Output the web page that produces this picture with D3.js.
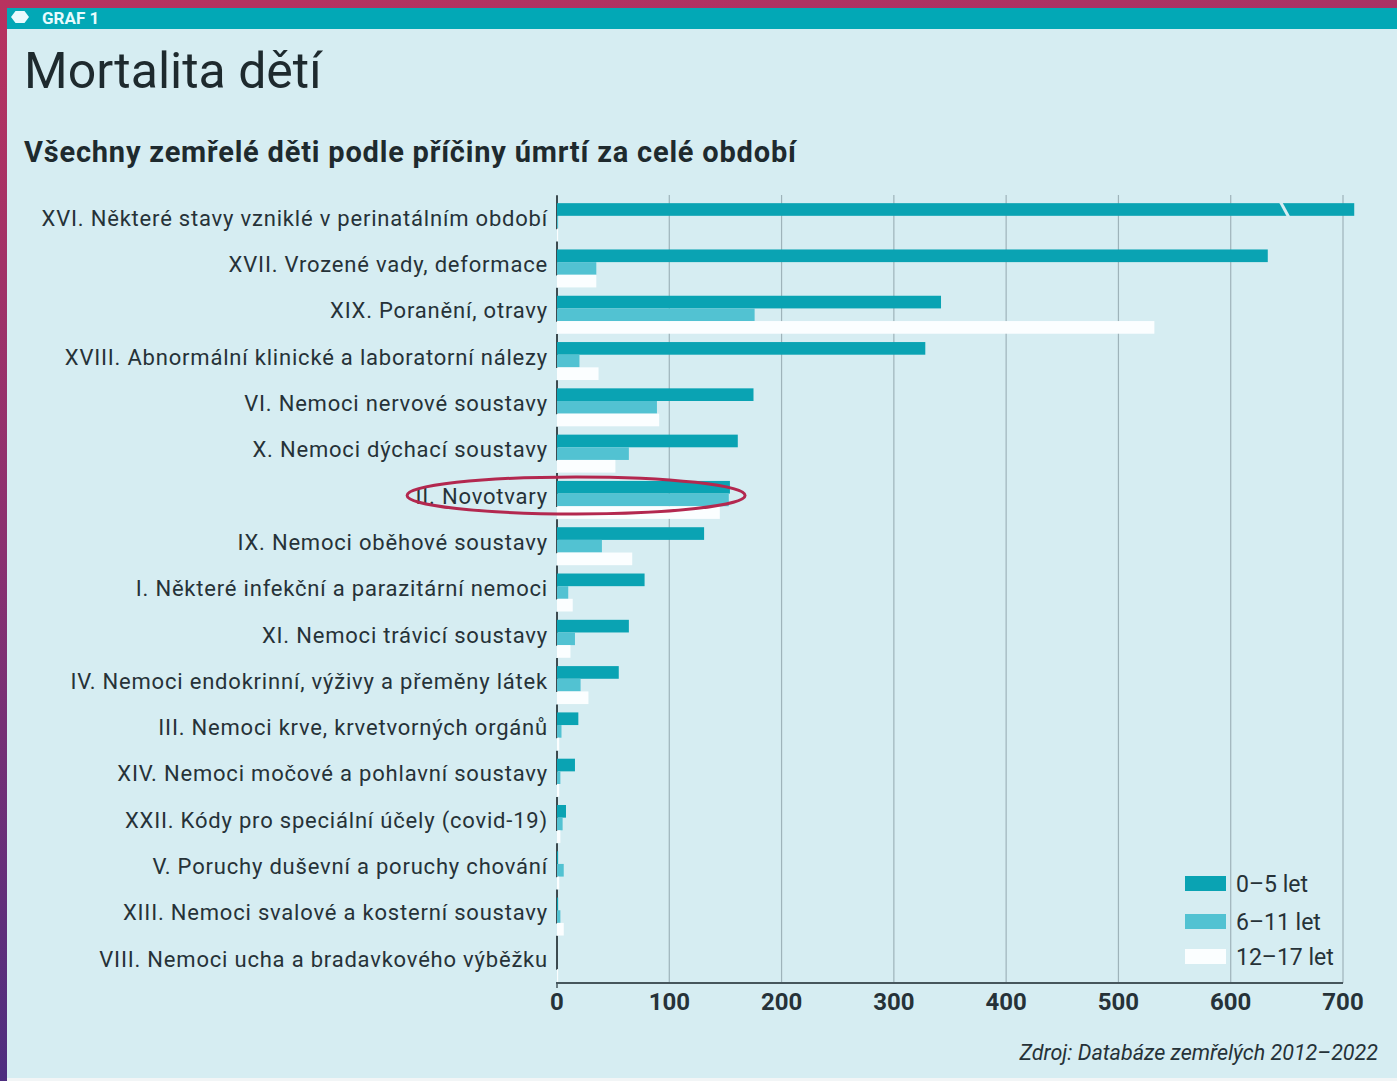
<!DOCTYPE html>
<html>
<head>
<meta charset="utf-8">
<script src="https://cdn.jsdelivr.net/npm/d3@7"></script>
<style>
  body { margin: 0; background: #f2f5f6; }
  svg { display: block; }
  text { font-family: Roboto, "Noto Sans", sans-serif; fill: #222; }
</style>
</head>
<body>
<svg id="chart"></svg>
<script>
// data
const categories = [
  "XVI. Některé stavy vzniklé v perinatálním období",
  "XVII. Vrozené vady, deformace",
  "XIX. Poranění, otravy",
  "XVIII. Abnormální klinické a laboratorní nálezy",
  "VI. Nemoci nervové soustavy",
  "X. Nemoci dýchací soustavy",
  "II. Novotvary",
  "IX. Nemoci oběhové soustavy",
  "I. Některé infekční a parazitární nemoci",
  "XI. Nemoci trávicí soustavy",
  "IV. Nemoci endokrinní, výživy a přeměny látek",
  "III. Nemoci krve, krvetvorných orgánů",
  "XIV. Nemoci močové a pohlavní soustavy",
  "XXII. Kódy pro speciální účely (covid-19)",
  "V. Poruchy duševní a poruchy chování",
  "XIII. Nemoci svalové a kosterní soustavy",
  "VIII. Nemoci ucha a bradavkového výběžku"
];
const series = ["0–5 let", "6–11 let", "12–17 let"];
// first bar is cut off at the axis end (drawn with a break mark)
const age0to5 = [710, 633, 342, 328, 175, 161, 154, 131, 78, 64, 55, 19, 16, 8, 1, 1, 0];
const age6to11 = [1, 35, 176, 20, 89, 64, 153, 40, 10, 16, 21, 4, 3, 5, 6, 3, 0];
const age12to17 = [1, 35, 532, 37, 91, 52, 145, 67, 14, 12, 28, 2, 2, 3, 2, 6, 1];
const xTicks = [0, 100, 200, 300, 400, 500, 600, 700];
const brokenBars = ["XVI. Některé stavy vzniklé v perinatálním období"];
const highlighted = "II. Novotvary";

const W = 1397, H = 1081;
const colors = ["#0aa3b3", "#52c2d2", "#fbfeff"];
const panelBg = "#d6edf2";

const svg = d3.select('#chart').attr('width', W).attr('height', H);

// frame: slide background, panel, header strip
const defs = svg.append('defs');
const grad = defs.append('linearGradient').attr('id', 'frame')
  .attr('x1', 0).attr('y1', 0).attr('x2', 0.15).attr('y2', 1);
grad.append('stop').attr('offset', 0).attr('stop-color', '#b8325f');
grad.append('stop').attr('offset', 0.5).attr('stop-color', '#8a3070');
grad.append('stop').attr('offset', 1).attr('stop-color', '#4b2d80');

svg.append('rect').attr('width', W).attr('height', H).attr('fill', 'url(#frame)');
svg.append('rect').attr('x', 7).attr('y', 1078).attr('width', W - 7).attr('height', 3).attr('fill', '#f2f5f6');
svg.append('rect').attr('x', 7).attr('y', 8).attr('width', W - 7).attr('height', 1070).attr('fill', panelBg);
svg.append('rect').attr('x', 7).attr('y', 8).attr('width', W - 7).attr('height', 21).attr('fill', '#02a8b6');

// header icon + label
const hex = d3.range(6).map(i => {
  const a = Math.PI / 3 * i;
  return [20 + 9 * Math.cos(a), 17 + 7 * Math.sin(a)];
});
svg.append('polygon').attr('points', hex.map(p => p.join(',')).join(' ')).attr('fill', '#e8fbfd');
svg.append('text').attr('x', 42).attr('y', 24)
  .style('font-size', '17px').style('font-weight', 'bold').style('fill', '#e8fbfd')
  .text('GRAF 1');

svg.append('text').attr('x', 24).attr('y', 88)
  .style('font-size', '50px').style('fill', '#1e2a2e')
  .text('Mortalita dětí');

svg.append('text').attr('x', 24).attr('y', 162)
  .style('font-size', '29px').style('font-weight', 'bold').style('letter-spacing', '0.8px')
  .style('fill', '#1e2a2e')
  .text('Všechny zemřelé děti podle příčiny úmrtí za celé období');

// scales
const x = d3.scaleLinear().domain([0, 700]).range([557, 1343]);
const y = d3.scaleBand().domain(categories).range([199, 986])
  .paddingInner(0.18).paddingOuter(0.09);
const ySub = d3.scaleBand().domain(series).range([0, y.bandwidth()]);

const rows = categories.map((c, i) => ({
  cat: c,
  values: [age0to5[i], age6to11[i], age12to17[i]]
}));

const plot = svg.append('g');

// grid lines
plot.append('g').selectAll('line')
  .data(xTicks.filter(d => d > 0))
  .join('line')
  .attr('x1', d => x(d)).attr('x2', d => x(d))
  .attr('y1', 195).attr('y2', 983)
  .attr('stroke', '#9eb3ba').attr('stroke-width', 1.2);

// per-row axis segments
plot.append('g').selectAll('line')
  .data(categories)
  .join('line')
  .attr('x1', x(0)).attr('x2', x(0))
  .attr('y1', d => y(d) - 8).attr('y2', d => y(d) + y.bandwidth() - 12)
  .attr('stroke', '#3d4b50').attr('stroke-width', 2);

// bars
const groups = plot.append('g').selectAll('g')
  .data(rows)
  .join('g')
  .attr('transform', d => `translate(0,${y(d.cat)})`);

groups.selectAll('rect')
  .data(d => d.values.map((v, j) => ({ key: series[j], value: v, j })))
  .join('rect')
  .attr('x', x(0))
  .attr('y', d => ySub(d.key))
  .attr('width', d => Math.max(0, x(d.value) - x(0)))
  .attr('height', ySub.bandwidth())
  .attr('fill', d => colors[d.j]);

// break mark on the cut bar
plot.append('g').selectAll('line')
  .data(brokenBars)
  .join('line')
  .attr('x1', x(644)).attr('x2', x(652))
  .attr('y1', d => y(d) - 2).attr('y2', d => y(d) + ySub.bandwidth() + 2)
  .attr('stroke', panelBg).attr('stroke-width', 3);

// category labels
plot.append('g').selectAll('text')
  .data(categories)
  .join('text')
  .attr('x', 548)
  .attr('y', d => y(d) + 15)
  .attr('dy', '0.35em')
  .attr('text-anchor', 'end')
  .style('font-size', '22px')
  .style('letter-spacing', '0.8px')
  .style('fill', '#263238')
  .text(d => d);

// x axis
plot.append('line')
  .attr('x1', x(0) - 1).attr('x2', x(700))
  .attr('y1', 983).attr('y2', 983)
  .attr('stroke', '#46565c').attr('stroke-width', 2);
plot.append('line')
  .attr('x1', x(0)).attr('x2', x(0))
  .attr('y1', 983).attr('y2', 988)
  .attr('stroke', '#46565c').attr('stroke-width', 1.5);

plot.append('g').selectAll('text')
  .data(xTicks)
  .join('text')
  .attr('x', d => x(d))
  .attr('y', 1010)
  .attr('text-anchor', 'middle')
  .style('font-size', '24px').style('font-weight', 'bold').style('fill', '#263238')
  .text(d => d);

// legend
const legend = svg.append('g').attr('transform', 'translate(1185,876)');
const legY = [0, 38, 73];
legend.selectAll('rect')
  .data(series)
  .join('rect')
  .attr('x', 0).attr('y', (d, i) => legY[i])
  .attr('width', 41).attr('height', 15)
  .attr('fill', (d, i) => colors[i]);
legend.selectAll('text')
  .data(series)
  .join('text')
  .attr('x', 51).attr('y', (d, i) => legY[i] + 8)
  .attr('dy', '0.35em')
  .style('font-size', '23px').style('fill', '#263238')
  .text(d => d);

// highlight ellipse
svg.append('ellipse')
  .attr('cx', x(17)).attr('cy', y(highlighted) + y.bandwidth() / 2 - 4.5)
  .attr('rx', 169).attr('ry', 18.5)
  .attr('fill', 'none').attr('stroke', '#b3284f').attr('stroke-width', 3);

// source
svg.append('text').attr('x', 1378).attr('y', 1060)
  .attr('text-anchor', 'end')
  .style('font-size', '21.5px').style('font-style', 'italic').style('fill', '#263238')
  .text('Zdroj: Databáze zemřelých 2012–2022');
</script>
</body>
</html>
